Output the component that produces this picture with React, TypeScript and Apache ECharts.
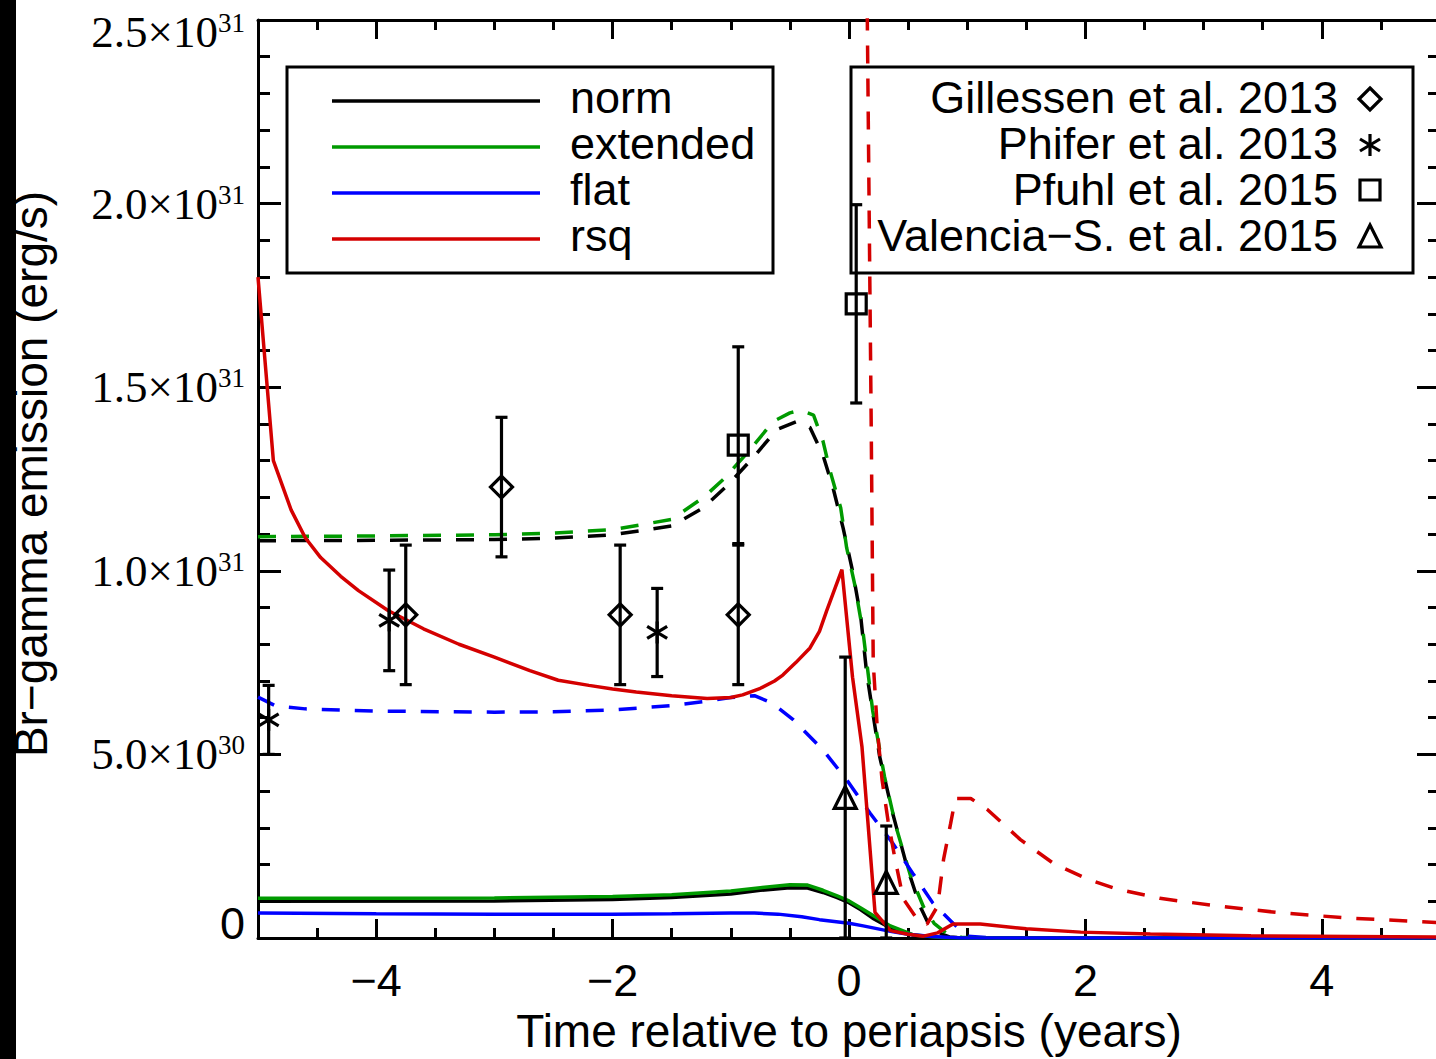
import React, { useEffect, useRef } from 'react';
import * as echarts from 'echarts';

// x: time relative to periapsis (years); y: Br-gamma emission in units of 1e31 erg/s
const normSolid = [[-5, 0.100], [-3, 0.101], [-2, 0.105], [-1.5, 0.110], [-1, 0.120], [-0.75, 0.130], [-0.5, 0.137], [-0.35, 0.136], [-0.22, 0.124], [-0.1, 0.110], [0, 0.096], [0.1, 0.077], [0.2, 0.054], [0.35, 0.027], [0.55, 0.007], [0.8, 0.001], [1, 0], [5, 0]];
const extendedSolid = [[-5, 0.108], [-4, 0.108], [-3, 0.109], [-2, 0.113], [-1.5, 0.118], [-1, 0.128], [-0.75, 0.137], [-0.5, 0.145], [-0.35, 0.144], [-0.22, 0.130], [-0.1, 0.115], [0, 0.101], [0.1, 0.082], [0.2, 0.062], [0.35, 0.033], [0.55, 0.008], [0.8, 0.001], [1, 0], [5, 0]];
const flatSolid = [[-5, 0.068], [-4, 0.066], [-3, 0.065], [-2, 0.065], [-1.5, 0.066], [-1, 0.068], [-0.8, 0.068], [-0.6, 0.065], [-0.4, 0.058], [-0.25, 0.050], [0, 0.040], [0.12, 0.033], [0.35, 0.018], [0.5, 0.010], [0.7, 0.004], [0.95, 0], [5, 0]];
const rsqSolid = [[-5, 1.80], [-4.87, 1.30], [-4.72, 1.166], [-4.6, 1.09], [-4.47, 1.036], [-4.3, 0.985], [-4.15, 0.946], [-3.9, 0.892], [-3.6, 0.842], [-3.3, 0.80], [-3.0, 0.765], [-2.7, 0.728], [-2.46, 0.702], [-2.2, 0.688], [-2, 0.678], [-1.8, 0.67], [-1.5, 0.66], [-1.2, 0.652], [-1.0, 0.655], [-0.9, 0.662], [-0.75, 0.68], [-0.63, 0.70], [-0.56, 0.716], [-0.45, 0.75], [-0.33, 0.79], [-0.25, 0.835], [-0.19, 0.89], [-0.06, 1.003], [0.03, 0.71], [0.11, 0.52], [0.22, 0.07], [0.35, 0.02], [0.5, 0.01], [0.63, 0.005], [0.75, 0.014], [0.88, 0.038], [1.11, 0.038], [1.5, 0.025], [1.96, 0.016], [2.55, 0.011], [3.4, 0.006], [5, 0.003]];

const normDashed = [[-5, 1.082], [-4, 1.083], [-3, 1.085], [-2.5, 1.089], [-2, 1.098], [-1.5, 1.122], [-1.24, 1.17], [-1.03, 1.232], [-0.82, 1.305], [-0.61, 1.385], [-0.44, 1.407], [-0.33, 1.39], [-0.22, 1.315], [-0.135, 1.226], [-0.05, 1.117], [0.03, 1.0], [0.1, 0.873], [0.15, 0.72], [0.26, 0.493], [0.37, 0.339], [0.49, 0.195], [0.6, 0.087], [0.67, 0.04], [0.75, 0.015], [0.85, 0.003], [1.0, 0], [5, 0]];
const extendedDashed = [[-5, 1.093], [-4, 1.095], [-3, 1.098], [-2.5, 1.103], [-2, 1.112], [-1.5, 1.14], [-1.23, 1.2], [-1.05, 1.253], [-0.84, 1.329], [-0.64, 1.407], [-0.5, 1.43], [-0.41, 1.437], [-0.3, 1.424], [-0.22, 1.353], [-0.16, 1.272], [-0.07, 1.171], [-0.02, 1.063], [0.05, 0.96], [0.12, 0.83], [0.2, 0.62], [0.3, 0.44], [0.4, 0.30], [0.52, 0.17], [0.63, 0.085], [0.72, 0.04], [0.82, 0.014], [0.95, 0.002], [1.1, 0], [5, 0]];
const flatDashed = [[-5, 0.656], [-4.85, 0.632], [-4.6, 0.624], [-4, 0.618], [-3, 0.615], [-2.5, 0.616], [-2, 0.621], [-1.5, 0.633], [-1.2, 0.645], [-1, 0.655], [-0.8, 0.66], [-0.65, 0.64], [-0.47, 0.594], [-0.22, 0.512], [-0.02, 0.431], [0.18, 0.339], [0.37, 0.258], [0.54, 0.176], [0.71, 0.095], [0.88, 0.04], [1.0, 0.005], [1.2, 0], [5, 0]];
const rsqDashed = [[0.147, 2.7], [0.155, 2.5], [0.188, 1.394], [0.205, 0.75], [0.24, 0.567], [0.28, 0.43], [0.33, 0.32], [0.39, 0.214], [0.46, 0.106], [0.58, 0.05], [0.66, 0.038], [0.75, 0.087], [0.8, 0.214], [0.86, 0.312], [0.9, 0.38], [1.03, 0.38], [1.17, 0.35], [1.45, 0.268], [1.73, 0.203], [2.02, 0.16], [2.27, 0.133], [2.63, 0.108], [3.12, 0.087], [3.67, 0.068], [4.24, 0.054], [5, 0.042]];

// observations: [x, y, error]
const gillessen2013 = [[-3.75, 0.88, 0.19], [-2.94, 1.228, 0.19], [-1.936, 0.88, 0.19], [-0.937, 0.88, 0.19]];
const phifer2013 = [[-4.91, 0.594, 0.094], [-3.89, 0.865, 0.137], [-1.623, 0.832, 0.12]];
const pfuhl2015 = [[-0.937, 1.342, 0.268], [0.061, 1.727, 0.27]];
const valencia2015 = [[-0.032, 0.38, 0.385], [0.315, 0.149, 0.156]];

const xMajorTicks = [-4, -2, 0, 2, 4];
const xTickLabels = ['−4', '−2', '0', '2', '4'];
const yTickValues = [0, 0.5, 1.0, 1.5, 2.0, 2.5];
const yTickMantissas = ['0', '5.0', '1.0', '1.5', '2.0', '2.5'];
const yTickExponents = ['', '30', '31', '31', '31', '31'];

const modelNames = ['norm', 'extended', 'flat', 'rsq'];
const modelColors = ['#000000', '#009a00', '#0000ff', '#d40000'];
const obsNames = ['Gillessen et al. 2013', 'Phifer et al. 2013', 'Pfuhl et al. 2015', 'Valencia−S. et al. 2015'];

const SANS = 'Liberation Sans';
const SERIF = 'Liberation Serif';
const DASH = [18, 15];

function markerShapes(kind: string, x: number, y: number, style: any): any[] {
  if (kind === 'diamond') {
    return [{ type: 'polygon', shape: { points: [[x, y - 11], [x + 11, y], [x, y + 11], [x - 11, y]] }, style }];
  }
  if (kind === 'square') {
    return [{ type: 'rect', shape: { x: x - 10, y: y - 10, width: 20, height: 20 }, style }];
  }
  if (kind === 'triangle') {
    return [{ type: 'polygon', shape: { points: [[x, y - 12], [x + 11, y + 10], [x - 11, y + 10]] }, style }];
  }
  return [
    { type: 'line', shape: { x1: x, y1: y - 11, x2: x, y2: y + 11 }, style },
    { type: 'line', shape: { x1: x - 10, y1: y - 6, x2: x + 10, y2: y + 6 }, style },
    { type: 'line', shape: { x1: x - 10, y1: y + 6, x2: x + 10, y2: y - 6 }, style },
  ];
}

export default function App() {
  const ref = useRef<HTMLDivElement>(null);
  useEffect(() => {
    const chart = echarts.init(ref.current!, null, { renderer: 'svg' });
    const axisLineStyle = { color: '#000', width: 3 };
    const xBase: any = { type: 'value', min: -5, max: 5, splitLine: { show: false } };
    const yBase: any = {
      type: 'value', min: 0, max: 2.5, interval: 0.5,
      splitLine: { show: false },
      axisLine: { show: true, onZero: false, lineStyle: axisLineStyle },
      axisTick: { show: true, inside: true, length: 23, lineStyle: axisLineStyle },
      minorTick: { show: true, splitNumber: 5, length: 12, lineStyle: axisLineStyle },
      minorSplitLine: { show: false },
    };
    const lineSeries = (data: number[][], color: string, dashed: boolean) => ({
      type: 'line', data, showSymbol: false, symbol: 'none',
      lineStyle: { color, width: 3.5, type: dashed ? DASH : 'solid' }, z: 2, silent: true,
    });
    const obsSeries = (data: number[][], kind: string) => ({
      type: 'custom', data, z: 4, clip: true,
      encode: { x: 0, y: 1 },
      renderItem: (params: any, api: any) => {
        const x = api.value(0), y = api.value(1), e = api.value(2);
        const c = api.coord([x, y]);
        const top = api.coord([x, y + e]);
        const bot = api.coord([x, Math.max(0, y - e)]);
        const style = { stroke: '#000', lineWidth: 3.2, fill: 'none' };
        return {
          type: 'group',
          children: [
            { type: 'line', shape: { x1: top[0], y1: top[1], x2: bot[0], y2: bot[1] }, style },
            { type: 'line', shape: { x1: top[0] - 6, y1: top[1], x2: top[0] + 6, y2: top[1] }, style },
            { type: 'line', shape: { x1: bot[0] - 6, y1: bot[1], x2: bot[0] + 6, y2: bot[1] }, style },
            ...markerShapes(kind, c[0], c[1], style),
          ],
        };
      },
    });

    const legendLineYs = [101, 147, 193, 239];
    const legendTextYs = [97, 143, 189, 235];
    const graphics: any[] = [
      { type: 'rect', shape: { x: 0, y: 0, width: 16, height: 1059 }, style: { fill: '#000' } },
      { type: 'rect', shape: { x: 287, y: 67, width: 486, height: 206 }, style: { fill: 'none', stroke: '#000', lineWidth: 3 } },
      { type: 'rect', shape: { x: 851, y: 67, width: 562, height: 206 }, style: { fill: 'none', stroke: '#000', lineWidth: 3 } },
    ];
    modelNames.forEach((n, i) => {
      graphics.push({ type: 'line', shape: { x1: 332, y1: legendLineYs[i], x2: 540, y2: legendLineYs[i] }, style: { stroke: modelColors[i], lineWidth: 3.5 } });
      graphics.push({ type: 'text', x: 570, y: legendTextYs[i], style: { text: n, fontSize: 45, fontFamily: SANS, fill: '#000', align: 'left', verticalAlign: 'middle' } });
    });
    obsNames.forEach((n, i) => {
      graphics.push({ type: 'text', x: 1338, y: legendTextYs[i], style: { text: n, fontSize: 45, fontFamily: SANS, fill: '#000', align: 'right', verticalAlign: 'middle' } });
    });
    const sym = { fill: 'none', stroke: '#000', lineWidth: 3.2 };
    const legendKinds = ['diamond', 'asterisk', 'square', 'triangle'];
    const legendSymYs = [99, 145, 190, 237];
    legendKinds.forEach((k, i) => {
      markerShapes(k, 1370, legendSymYs[i], sym).forEach((s) => graphics.push(s));
    });

    const option: any = {
      animation: false,
      backgroundColor: '#ffffff',
      grid: { left: 258, top: 20, right: 10, bottom: 117, containLabel: false },
      xAxis: [
        {
          ...xBase, position: 'bottom',
          axisLine: { show: true, onZero: false, lineStyle: axisLineStyle },
          axisTick: { show: true, inside: true, length: 19, lineStyle: axisLineStyle, customValues: xMajorTicks },
          axisLabel: {
            show: true, customValues: xMajorTicks, margin: 20, fontSize: 45, fontFamily: SANS, color: '#000',
            formatter: (v: number) => { const i = xMajorTicks.findIndex((t) => Math.abs(t - v) < 1e-9); return i >= 0 ? xTickLabels[i] : ''; },
          },
          name: 'Time relative to periapsis (years)', nameLocation: 'middle', nameGap: 70,
          nameTextStyle: { fontSize: 46, fontFamily: SANS, color: '#000' },
        },
        {
          ...xBase, position: 'bottom', interval: 0.5,
          axisLine: { show: false, onZero: false },
          axisTick: { show: true, inside: true, length: 10, lineStyle: axisLineStyle },
          axisLabel: { show: false },
        },
        {
          ...xBase, position: 'top',
          axisLine: { show: true, onZero: false, lineStyle: axisLineStyle },
          axisTick: { show: true, inside: true, length: 19, lineStyle: axisLineStyle, customValues: xMajorTicks },
          axisLabel: { show: false },
        },
        {
          ...xBase, position: 'top', interval: 0.5,
          axisLine: { show: false, onZero: false },
          axisTick: { show: true, inside: true, length: 10, lineStyle: axisLineStyle },
          axisLabel: { show: false },
        },
      ],
      yAxis: [
        {
          ...yBase, position: 'left',
          axisLabel: {
            show: true, margin: 13,
            formatter: (v: number) => {
              const i = yTickValues.findIndex((t) => Math.abs(t - v) < 1e-9);
              if (i < 0) return '';
              if (i === 0) return '{zero|' + yTickMantissas[0] + '}';
              if (i === yTickValues.length - 1) return '{baseTop|' + yTickMantissas[i] + '×10}{supTop|' + yTickExponents[i] + '}';
              return '{base|' + yTickMantissas[i] + '×10}{sup|' + yTickExponents[i] + '}';
            },
            rich: {
              base: { fontFamily: SERIF, fontSize: 45, color: '#000' },
              sup: { fontFamily: SERIF, fontSize: 27, color: '#000', verticalAlign: 'top' },
              baseTop: { fontFamily: SERIF, fontSize: 45, color: '#000', padding: [24, 0, 0, 0] },
              supTop: { fontFamily: SERIF, fontSize: 27, color: '#000', verticalAlign: 'top', padding: [24, 0, 0, 0] },
              zero: { fontFamily: SANS, fontSize: 45, color: '#000', padding: [0, 0, 30, 0] },
            },
          },
          name: 'Br−gamma emission (erg/s)', nameLocation: 'middle', nameGap: 204, nameRotate: 90,
          nameTextStyle: { fontSize: 46, fontFamily: SANS, color: '#000', padding: [0, 0, 0, 10] },
        },
        { ...yBase, position: 'right', axisLabel: { show: false } },
      ],
      series: [
        lineSeries(normDashed, modelColors[0], true),
        lineSeries(extendedDashed, modelColors[1], true),
        lineSeries(flatDashed, modelColors[2], true),
        lineSeries(rsqDashed, modelColors[3], true),
        lineSeries(normSolid, modelColors[0], false),
        lineSeries(extendedSolid, modelColors[1], false),
        lineSeries(flatSolid, modelColors[2], false),
        lineSeries(rsqSolid, modelColors[3], false),
        obsSeries(gillessen2013, 'diamond'),
        obsSeries(phifer2013, 'asterisk'),
        obsSeries(pfuhl2015, 'square'),
        obsSeries(valencia2015, 'triangle'),
      ],
      graphic: graphics,
    };
    chart.setOption(option);
    return () => chart.dispose();
  }, []);
  return (
    <div style={{ position: 'fixed', left: 0, top: 0, width: 1436, height: 1059, overflow: 'hidden', background: '#fff' }}>
      <div ref={ref} style={{ width: 1450, height: 1059 }} />
    </div>
  );
}
